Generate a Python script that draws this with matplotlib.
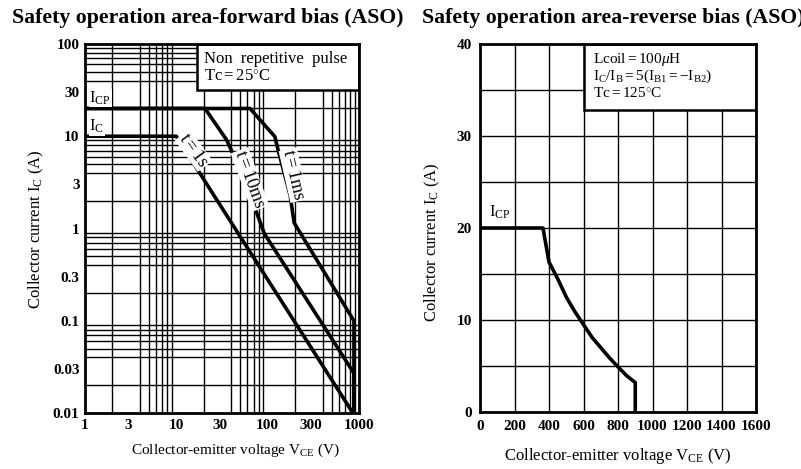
import matplotlib
matplotlib.use("Agg")
import matplotlib.pyplot as plt
from matplotlib.patches import Rectangle
from matplotlib.ticker import FixedLocator, NullFormatter, LogLocator

plt.rcParams['font.family'] = ['Liberation Serif', 'DejaVu Serif']
plt.rcParams['mathtext.fontset'] = 'custom'
plt.rcParams['mathtext.rm'] = 'Liberation Serif'
plt.rcParams['mathtext.it'] = 'Liberation Serif:italic'
plt.rcParams['mathtext.bf'] = 'Liberation Serif:bold'

# ---------------- data: forward bias SOA (log-log) ----------------
fwd_x_ticks = [1, 3, 10, 30, 100, 300, 1000]
fwd_x_labels = ['1', '3', '10', '30', '100', '300', '1000']
fwd_y_ticks = [0.01, 0.03, 0.1, 0.3, 1, 3, 10, 30, 100]
fwd_y_labels = ['0.01', '0.03', '0.1', '0.3', '1', '3', '10', '30', '100']

v_1s = [1, 10, 25, 880]
i_1s = [10, 10, 2.4, 0.0096]
v_10ms = [1, 20.6, 35.6, 46, 76, 92, 880, 880]
i_10ms = [20, 20, 9.1, 5.2, 1.47, 0.88, 0.027, 0.01]
v_1ms = [1, 64, 120, 130, 176, 195, 880, 880]
i_1ms = [20, 20, 9.9, 7.1, 2.3, 1.15, 0.1, 0.01]

# ---------------- data: reverse bias SOA (linear) ----------------
rev_x_ticks = [0, 200, 400, 600, 800, 1000, 1200, 1400, 1600]
rev_y_ticks = [0, 10, 20, 30, 40]
rev_v = [0, 365, 400, 450, 500, 550, 600, 650, 700, 750, 800, 850, 900, 900]
rev_i = [20, 20, 16.3, 14.5, 12.5, 10.9, 9.5, 8.1, 7.0, 5.9, 4.9, 3.95, 3.2, 0]

W, H = 801, 469
fig = plt.figure(figsize=(W / 100, H / 100), dpi=100)
fig.patch.set_facecolor('white')

def ax_rect(l, r, t, b):
    return [l / W, 1 - b / H, (r - l) / W, (b - t) / H]

# ================= left chart =================
ax1 = fig.add_axes(ax_rect(85, 359, 44, 413))
ax1.set_xscale('log')
ax1.set_yscale('log')
ax1.set_xlim(1, 1000)
ax1.set_ylim(0.01, 100)
ax1.xaxis.set_major_locator(FixedLocator(fwd_x_ticks))
ax1.set_xticklabels(fwd_x_labels)
ax1.yaxis.set_major_locator(FixedLocator(fwd_y_ticks))
ax1.set_yticklabels(fwd_y_labels)
ax1.xaxis.set_minor_locator(LogLocator(base=10, subs=range(1, 10)))
ax1.yaxis.set_minor_locator(LogLocator(base=10, subs=range(1, 10)))
ax1.xaxis.set_minor_formatter(NullFormatter())
ax1.yaxis.set_minor_formatter(NullFormatter())
ax1.grid(which='minor', color='black', lw=1.0, zorder=1)
ax1.grid(which='major', visible=False)
ax1.tick_params(which='both', length=0, labelsize=11, pad=4)
for lab in ax1.get_xticklabels() + ax1.get_yticklabels():
    lab.set_fontweight('bold')
for s in ax1.spines.values():
    s.set_linewidth(2.0)
    s.set_zorder(5)

ax1.add_patch(Rectangle((16.9, 31.6), 1000 - 16.9, 100 - 31.6, facecolor='white',
                        edgecolor='black', lw=1.8, zorder=3))
ax1.text(20, 68, 'Non  repetitive  pulse', fontsize=12, va='center', ha='left', zorder=4)
ax1.text(20, 44, 'Tc$=$25$^{\\circ}$C', fontsize=12, va='center', ha='left', zorder=4)

for v, i in ((v_1s, i_1s), (v_10ms, i_10ms), (v_1ms, i_1ms)):
    ax1.plot(v, i, color='black', lw=2.6, zorder=4, solid_joinstyle='round')

bb = dict(facecolor='white', edgecolor='none', pad=0.5)
ax1.text(1.12, 26, r'$\mathrm{I_{CP}}$', fontsize=12, ha='left', va='center', zorder=4, bbox=bb)
ax1.text(1.12, 12.8, r'$\mathrm{I_{C}}$', fontsize=12, ha='left', va='center', zorder=4, bbox=bb)
ax1.text(15.5, 7.0, 't$=$1s', fontsize=13, rotation=-54, ha='center', va='center', zorder=4, bbox=bb)
ax1.text(64, 3.4, 't$=$10ms', fontsize=13, rotation=-70, ha='center', va='center', zorder=4, bbox=bb)
ax1.text(192, 3.8, 't$=$1ms', fontsize=13, rotation=-77, ha='center', va='center', zorder=4, bbox=bb)

ax1.set_xlabel(r'Collector-emitter voltage $\mathrm{V_{CE}}$ (V)', fontsize=11)
ax1.xaxis.set_label_coords((236 - 85) / (359 - 85), -(450 - 413) / (413 - 44))
ax1.xaxis.label.set_va('center')
ax1.set_ylabel(r'Collector current $\mathrm{I_{C}}$ (A)', fontsize=12)
ax1.yaxis.set_label_coords(-(85 - 36) / (359 - 85), (413 - 229) / (413 - 44))
ax1.yaxis.label.set_va('center')

# ================= right chart =================
ax2 = fig.add_axes(ax_rect(480, 756, 44, 412))
ax2.set_xlim(0, 1600)
ax2.set_ylim(0, 40)
ax2.set_xticks(rev_x_ticks)
ax2.set_xticklabels([str(t) for t in rev_x_ticks])
ax2.set_yticks(rev_y_ticks)
ax2.set_yticklabels([str(t) for t in rev_y_ticks])
ax2.yaxis.set_minor_locator(FixedLocator([5, 15, 25, 35]))
ax2.grid(which='both', color='black', lw=1.0, zorder=1)
ax2.tick_params(which='both', length=0, labelsize=11, pad=6)
for lab in ax2.get_xticklabels() + ax2.get_yticklabels():
    lab.set_fontweight('bold')
for s in ax2.spines.values():
    s.set_linewidth(2.0)
    s.set_zorder(5)

ax2.add_patch(Rectangle((600, 32.8), 1000, 40 - 32.8, facecolor='white',
                        edgecolor='black', lw=1.8, zorder=3))
ax2.text(655, 38.35, r'Lcoil$=$100$\mu$H', fontsize=11, va='center', ha='left', zorder=4)
ax2.text(655, 36.5, r'$\mathrm{I_C/I_B}$$=$5($\mathrm{I_{B1}}$$=-$$\mathrm{I_{B2}}$)',
         fontsize=11, va='center', ha='left', zorder=4)
ax2.text(655, 34.65, 'Tc$=$125$^{\\circ}$C', fontsize=11, va='center', ha='left', zorder=4)

ax2.plot(rev_v, rev_i, color='black', lw=2.6, zorder=4, solid_joinstyle='round')
ax2.text(50, 21.7, r'$\mathrm{I_{CP}}$', fontsize=12, ha='left', va='center', zorder=4, bbox=bb)

ax2.set_xlabel(r'Collector-emitter voltage $\mathrm{V_{CE}}$ (V)', fontsize=12)
ax2.xaxis.set_label_coords((618 - 480) / (756 - 480), -(456 - 412) / (412 - 44))
ax2.xaxis.label.set_va('center')
ax2.set_ylabel(r'Collector current $\mathrm{I_{C}}$ (A)', fontsize=12)
ax2.yaxis.set_label_coords(-(480 - 432) / (756 - 480), (412 - 242) / (412 - 44))
ax2.yaxis.label.set_va('center')

# ================= titles =================
fig.text(12 / W, 1 - 18 / H, 'Safety operation area-forward bias (ASO)',
         fontsize=15.7, fontweight='bold', ha='left', va='center')
fig.text(422 / W, 1 - 18 / H, 'Safety operation area-reverse bias (ASO)',
         fontsize=15.7, fontweight='bold', ha='left', va='center')

fig.savefig('out.png', dpi=100)
